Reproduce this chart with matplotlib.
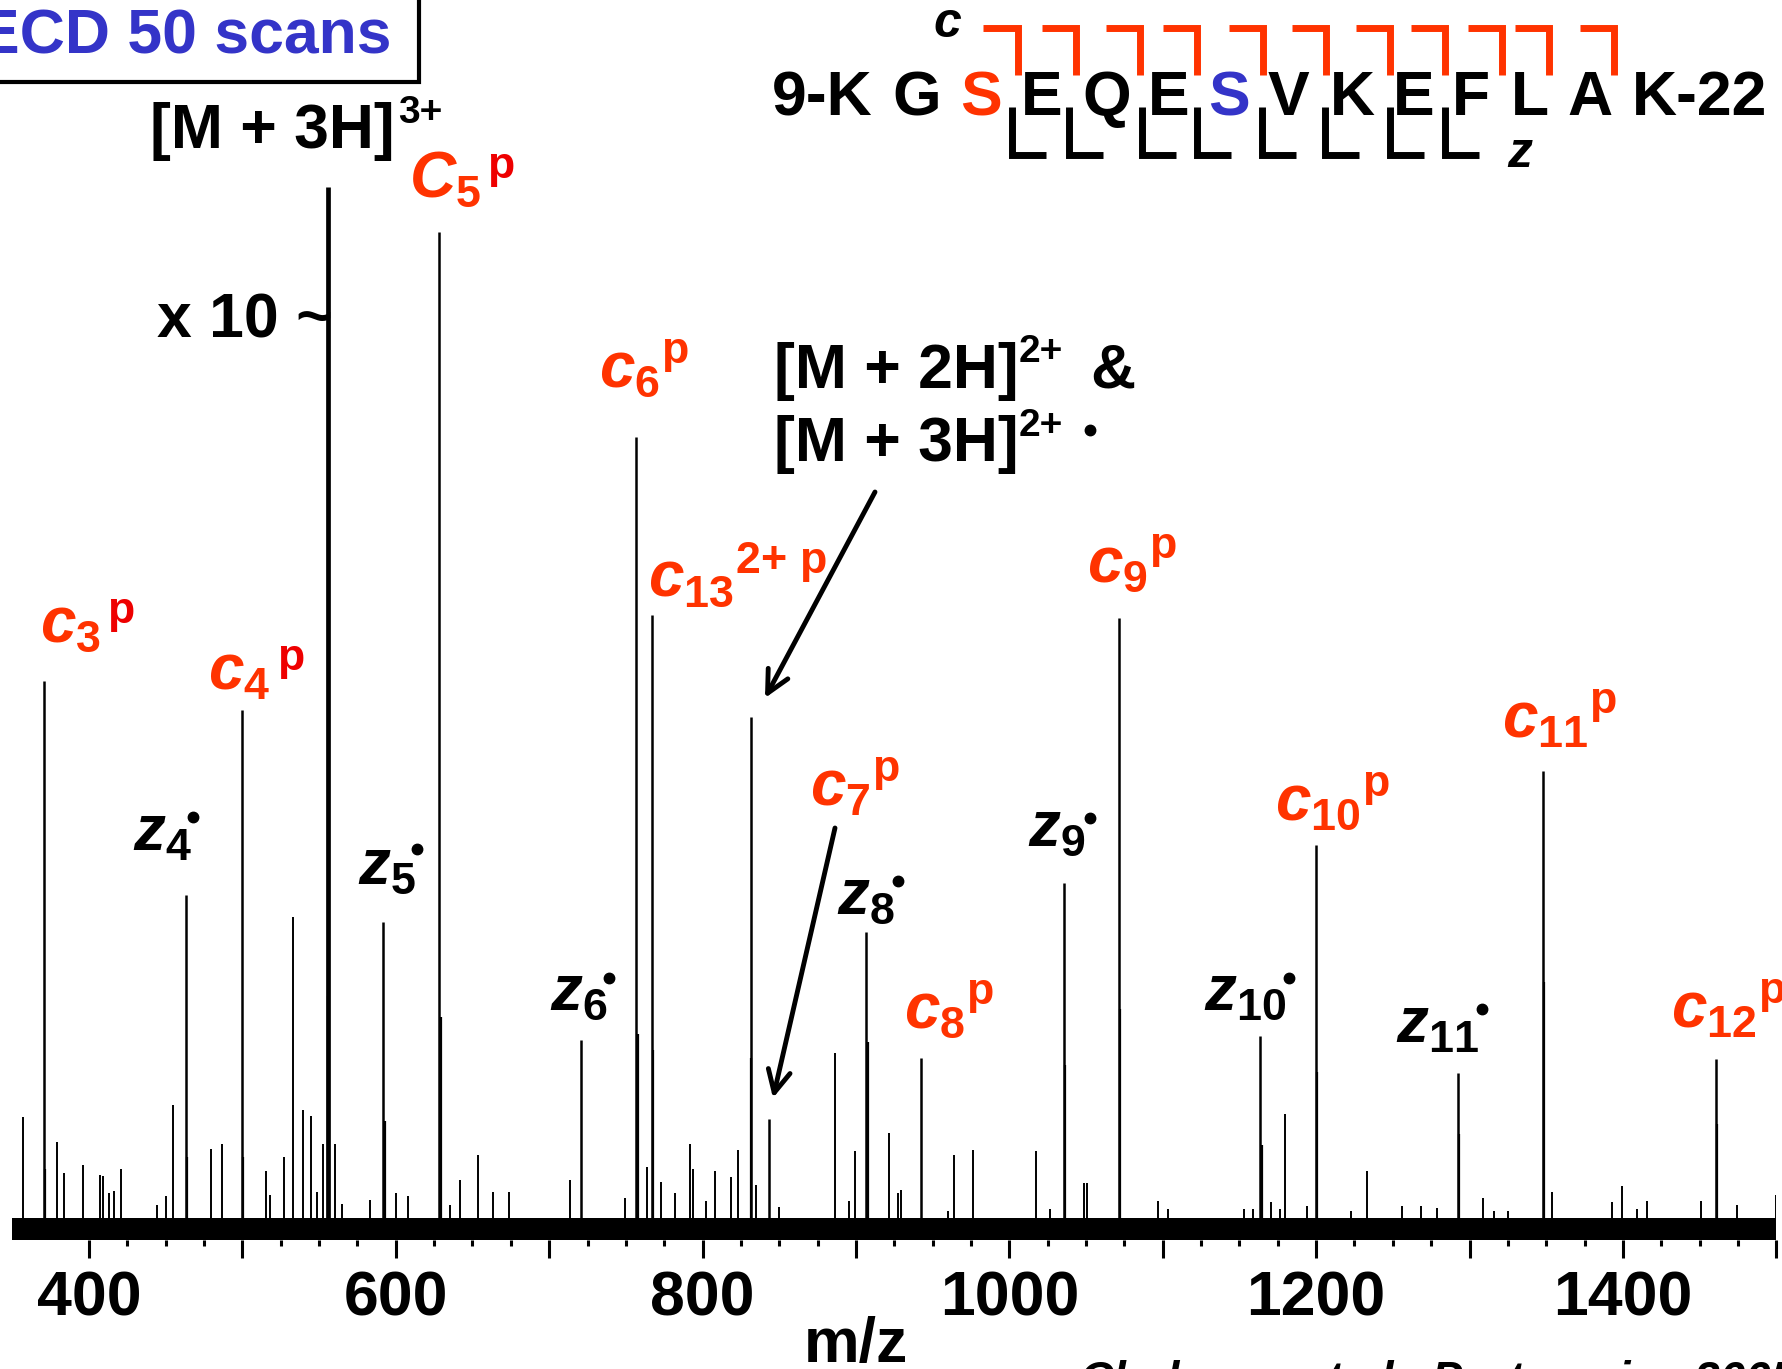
import numpy as np
import matplotlib
matplotlib.use("Agg")
import matplotlib.pyplot as plt
from matplotlib.patches import Rectangle
from matplotlib.lines import Line2D
from matplotlib.ticker import MultipleLocator, FixedLocator, FuncFormatter

plt.rcParams['font.family'] = ['Liberation Sans', 'DejaVu Sans']
plt.rcParams['font.weight'] = 'bold'
plt.rcParams['mathtext.fontset'] = 'custom'
plt.rcParams['mathtext.rm'] = 'Liberation Sans:weight=bold'
plt.rcParams['mathtext.bf'] = 'Liberation Sans:weight=bold'
plt.rcParams['mathtext.it'] = 'Liberation Sans:style=italic:weight=bold'

# --- labelled fragment ions (m/z, relative intensity, [M+3H]3+ shown x10 reduced)
ion_names = ['c3p', 'z4', 'c4p', 'M3H', 'z5', 'c5p', 'z6', 'c6p', 'c13', 'M2H',
             'c7p', 'z8', 'c8p', 'z9', 'c9p', 'z10', 'c10p', 'z11', 'c11p', 'c12p']
ion_mz = [370.5, 463.2, 499.6, 555.5, 591.9, 628.4, 720.5, 756.8, 767.2, 831.4,
          843.2, 906.8, 942.4, 1035.4, 1071.4, 1163.4, 1199.8, 1292.2, 1347.7, 1460.5]
ion_int = [52.6, 32.0, 49.8, 100.0, 29.4, 95.7, 18.1, 76.0, 58.9, 49.1,
           10.5, 28.4, 16.3, 33.2, 58.6, 18.5, 36.8, 14.9, 43.9, 16.2]

# isotope shoulders next to the main peaks
iso_mz = [371.5, 464.2, 500.6, 555.9, 592.9, 629.4, 757.8, 767.7, 831.9, 907.8,
          1036.4, 1072.4, 1164.4, 1200.8, 1293.2, 1348.7, 1461.5]
iso_int = [5.7, 6.8, 6.8, 22.3, 10.3, 20.3, 18.6, 17.1, 16.3, 17.9,
           15.7, 21.0, 8.0, 15.0, 9.0, 23.6, 10.0]

# unlabelled small peaks
minor_mz = [356.7, 378.9, 383.6, 396.4, 407.1, 409.3, 412.8, 416.3, 421.0, 444.5,
            450.0, 455.0, 479.4, 486.7, 515.6, 518.1, 527.3, 533.3, 539.3, 544.7,
            548.6, 552.8, 560.3, 564.8, 583.4, 599.9, 608.2, 635.1, 642.0, 653.8,
            663.2, 673.7, 713.7, 749.5, 763.5, 772.7, 782.2, 791.7, 793.7, 802.4,
            807.9, 818.6, 823.1, 834.8, 849.8, 886.5, 895.3, 899.2, 921.4, 927.4,
            929.6, 960.0, 963.6, 976.3, 1017.2, 1026.7, 1048.7, 1050.9, 1096.9, 1103.4,
            1153.2, 1159.0, 1170.3, 1176.3, 1179.8, 1193.8, 1223.0, 1233.1, 1255.9, 1268.6,
            1278.9, 1309.0, 1316.0, 1325.0, 1354.0, 1392.8, 1399.7, 1409.0, 1416.0, 1450.8,
            1474.5, 1499.8]
minor_int = [10.7, 8.3, 5.3, 6.1, 5.1, 5.0, 3.4, 3.6, 5.7, 2.2,
             3.1, 11.8, 7.6, 8.1, 5.5, 3.2, 6.8, 29.9, 11.3, 10.8,
             3.5, 8.1, 8.1, 2.3, 2.7, 3.4, 3.1, 2.2, 4.6, 7.0,
             3.5, 3.5, 4.6, 2.9, 5.9, 4.4, 3.4, 8.1, 5.7, 2.6,
             5.5, 4.9, 7.5, 4.1, 2.0, 16.8, 2.6, 7.4, 9.1, 3.4,
             3.7, 1.6, 7.0, 7.5, 7.4, 1.8, 4.3, 4.3, 2.6, 1.8,
             1.8, 1.8, 2.5, 1.8, 11.0, 2.1, 1.6, 5.5, 2.1, 2.1,
             1.9, 2.9, 1.6, 1.6, 3.5, 2.5, 4.0, 1.8, 2.6, 2.6,
             2.2, 3.2]

# peptide sequence
seq_letters = ['9-K', 'G', 'S', 'E', 'Q', 'E', 'S', 'V', 'K', 'E', 'F', 'L', 'A', 'K-22']

W, H = 1782, 1369
ORANGE = '#FF3300'
RED = '#EE0000'
BLUE = '#3434C8'


def fp(x, y):
    # pixel position (from top-left) -> figure fraction
    return x / W, 1 - y / H


fig = plt.figure(figsize=(W / 100, H / 100), dpi=100)
fig.patch.set_facecolor('white')
ax = fig.add_axes([12.3 / W, 129 / H, 1764 / W, 1240 / H])
ax.set_xlim(350, 1500)
ax.set_ylim(-1.15, 118)

# noisy baseline band
ax.axhspan(-1.15, 0.96, color='black', lw=0)
ax.vlines(minor_mz, 0, minor_int, color='black', lw=1.4)
ax.vlines(iso_mz, 0, iso_int, color='black', lw=1.6)
ion_lw = [3.4 if n == 'M3H' else 1.8 for n in ion_names]
ax.vlines(ion_mz, 0, ion_int, color='black', linewidths=ion_lw)

for s in ax.spines.values():
    s.set_visible(False)
ax.set_yticks([])
ax.xaxis.set_major_locator(MultipleLocator(100))
ax.xaxis.set_minor_locator(FixedLocator(np.arange(400, 1501, 25)))
ax.xaxis.set_major_formatter(FuncFormatter(lambda v, p: f'{v:.0f}' if v % 200 == 0 else ''))
ax.tick_params(axis='x', which='major', direction='out', length=13, width=2.2,
               labelsize=45, pad=8)
ax.tick_params(axis='x', which='minor', direction='out', length=4, width=2.2)

fig.text(*fp(856, 1362), 'm/z', ha='center', va='baseline', fontsize=45)
fig.text(*fp(1080, 1360), 'Chalmers et al., Proteomics 2005', va='top',
         style='italic', fontsize=33)

# ECD box
fig.text(*fp(392, 53), 'ECD 50 scans', ha='right', va='baseline', color=BLUE, fontsize=45)
fig.add_artist(Rectangle(fp(-30, 82), (419 + 30) / W, 0.2, transform=fig.transFigure,
                         fill=False, lw=3, ec='black', clip_on=False))

# precursor labels
fig.text(*fp(150, 148), '[M + 3H]', fontsize=45, va='baseline')
fig.text(*fp(398, 123), '3+', fontsize=28, va='baseline')
fig.text(*fp(157, 338), 'x 10 ~', fontsize=45, va='baseline')
fig.text(*fp(774, 388), '[M + 2H]', fontsize=45, va='baseline')
fig.text(*fp(1019, 362), '2+', fontsize=28, va='baseline')
fig.text(*fp(1090, 388), '&', fontsize=45, va='baseline')
fig.text(*fp(774, 461), '[M + 3H]', fontsize=45, va='baseline')
fig.text(*fp(1019, 436), '2+', fontsize=28, va='baseline')

arrow = dict(arrowstyle='->, head_length=0.8, head_width=0.4', lw=3.5, color='black',
             mutation_scale=20, shrinkA=0, shrinkB=0)
ax.annotate('', xy=fp(765, 698), xytext=fp(875, 492), xycoords='figure fraction', arrowprops=arrow)
ax.annotate('', xy=fp(773, 1098), xytext=fp(835, 828), xycoords='figure fraction', arrowprops=arrow)

# c ions
c_labels = [
    (r'$c_{3}$', 40, 642), (r'$c_{4}$', 208, 690), (r'$C_{5}$', 409, 197),
    (r'$c_{6}{}^{\mathrm{p}}$', 599, 387), (r'$c_{13}{}^{2{+}\ \mathrm{p}}$', 648, 597),
    (r'$c_{7}{}^{\mathrm{p}}$', 810, 806), (r'$c_{8}{}^{\mathrm{p}}$', 904, 1028),
    (r'$c_{9}{}^{\mathrm{p}}$', 1087, 582), (r'$c_{10}{}^{\mathrm{p}}$', 1275, 820),
    (r'$c_{11}{}^{\mathrm{p}}$', 1502, 738), (r'$c_{12}{}^{\mathrm{p}}$', 1671, 1028),
]
for txt, x, y in c_labels:
    fig.text(*fp(x, y), txt, color=ORANGE, fontsize=46, va='baseline')
for x, y in [(107, 623), (277, 670), (487, 178)]:
    fig.text(*fp(x, y), 'p', color=RED, fontsize=32, va='baseline')

# z ions
z_labels = [
    (r'$z_{4}$', 133, 851), (r'$z_{5}$', 358, 884), (r'$z_{6}$', 550, 1010),
    (r'$z_{8}$', 837, 914), (r'$z_{9}$', 1028, 846), (r'$z_{10}$', 1204, 1010),
    (r'$z_{11}$', 1396, 1043),
]
for txt, x, y in z_labels:
    fig.text(*fp(x, y), txt, color='black', fontsize=46, va='baseline')
dots = [(193, 817), (417, 849), (609, 978), (898, 881), (1090, 818), (1289, 978),
        (1482, 1009), (1090, 430)]
dx, dy = zip(*[fp(x, y) for x, y in dots])
fig.add_artist(Line2D(dx, dy, ls='none', marker='o', ms=7.5, color='black',
                      transform=fig.transFigure))

# sequence with cleavage marks
seq_x = [822, 917, 981, 1042, 1107, 1169, 1229, 1288, 1352, 1414, 1471, 1530, 1590, 1700]
seq_col = ['black', 'black', ORANGE, 'black', 'black', 'black', BLUE,
           'black', 'black', 'black', 'black', 'black', 'black', 'black']
for s, x, c in zip(seq_letters, seq_x, seq_col):
    fig.text(*fp(x, 115), s, ha='center', va='baseline', fontsize=45, color=c)

c_cut = [1017.5, 1076, 1139.6, 1196.9, 1262.5, 1326, 1390, 1445.3, 1502, 1548.9, 1614.4]
for x in c_cut:
    xs, ys = zip(fp(x - 34, 28), fp(x, 28), fp(x, 75))
    fig.add_artist(Line2D(xs, ys, lw=5, color=ORANGE, transform=fig.transFigure,
                          solid_joinstyle='miter', solid_capstyle='butt'))
z_cut = [1012, 1069, 1142, 1197, 1262, 1325, 1390, 1445]
for x in z_cut:
    xs, ys = zip(fp(x, 107), fp(x, 155), fp(x + 34, 155))
    fig.add_artist(Line2D(xs, ys, lw=5, color='black', transform=fig.transFigure,
                          solid_joinstyle='miter', solid_capstyle='butt'))
fig.text(*fp(933, 37), 'c', style='italic', fontsize=36, va='baseline')
fig.text(*fp(1507, 167), 'z', style='italic', fontsize=36, va='baseline')

fig.savefig('out.png', dpi=100, facecolor='white')
